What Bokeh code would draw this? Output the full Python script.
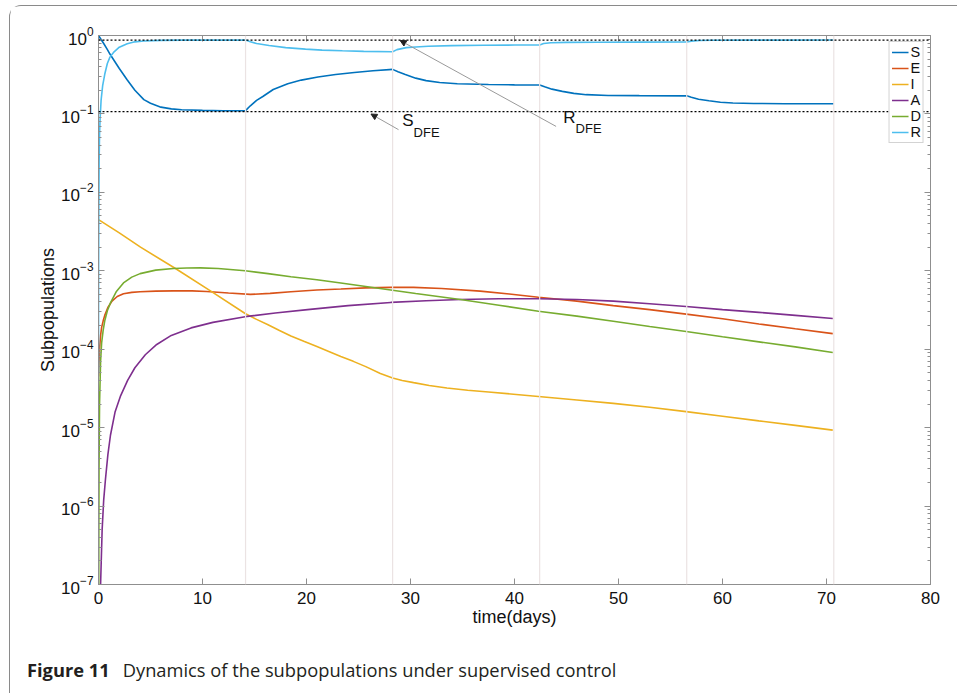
from bokeh.plotting import figure
from bokeh.models import (Range1d, LinearAxis, LogAxis, FixedTicker, Span, Arrow,
                          NormalHead, Label, CustomJSTickFormatter, Div)
from bokeh.layouts import column
from bokeh.embed import file_html
from bokeh.resources import INLINE

# ---------------- data ----------------
t_S = [0, 0.25, 0.5, 0.8, 1.1, 1.5, 2.0, 2.75, 3.5, 4.36, 5.0, 6.0, 7.0, 8.0, 10.0, 12.0,
       14.14, 14.6, 15.2, 15.8, 16.8, 18.2, 19.5, 21.1, 22.8, 24.6, 26.4,
       28.28, 28.8, 29.5, 30.5, 31.5, 32.8, 34.5, 37.5, 40.0,
       42.42, 42.9, 43.6, 44.6, 45.7, 46.9, 49.0, 52.0,
       56.56, 57.0, 57.7, 58.7, 59.8, 61.0, 63.0, 66.0, 70.7]
S = [1.0, 0.89, 0.79, 0.68, 0.58, 0.48, 0.38, 0.273, 0.2, 0.152, 0.137, 0.122, 0.116, 0.113, 0.111, 0.11,
     0.11, 0.127, 0.149, 0.167, 0.205, 0.243, 0.27, 0.295, 0.318, 0.338, 0.355,
     0.37, 0.345, 0.318, 0.286, 0.266, 0.252, 0.243, 0.237, 0.235,
     0.234, 0.222, 0.207, 0.194, 0.183, 0.176, 0.172, 0.171,
     0.17, 0.163, 0.154, 0.147, 0.141, 0.138, 0.136, 0.135, 0.135]

t_E = [0, 0.05, 0.1, 0.2, 0.3, 0.45, 0.6, 0.9, 1.3, 1.8, 2.4, 3.2, 4.0, 5.5, 7.2, 9.0, 10.4, 12.5,
       14.6, 16.5, 18.5, 21.0, 23.3, 25.7, 28.1, 30.3, 33.0, 36.7, 39.5, 42.3, 46.0, 49.5, 53.0,
       56.5, 60.0, 63.5, 67.0, 70.6]
E = [4.5e-5, 7e-5, 1.0e-4, 1.5e-4, 1.9e-4, 2.3e-4, 2.7e-4, 3.4e-4, 4.1e-4, 4.7e-4, 5.1e-4, 5.3e-4,
     5.4e-4, 5.5e-4, 5.55e-4, 5.55e-4, 5.45e-4, 5.2e-4, 5.0e-4, 5.15e-4, 5.4e-4, 5.7e-4, 5.85e-4,
     6.05e-4, 6.15e-4, 6.15e-4, 5.95e-4, 5.5e-4, 5.05e-4, 4.6e-4, 4.1e-4, 3.6e-4, 3.2e-4,
     2.8e-4, 2.45e-4, 2.1e-4, 1.82e-4, 1.58e-4]

t_I = [0, 2.0, 4.04, 7.4, 10.8, 14.1, 15.2, 16.3, 17.4, 18.5, 19.8, 21.0, 22.2, 23.3, 24.5, 25.7,
       27.1, 28.28, 29.2, 30.3, 31.8, 33.5, 35.5, 37.5, 42.3,
       46.0, 49.5, 53.0, 56.5, 60.0, 63.5, 67.0, 70.6]
I = [4.5e-3, 3.05e-3, 2.0e-3, 1.07e-3, 5.5e-4, 2.85e-4, 2.4e-4, 2.05e-4, 1.73e-4, 1.47e-4, 1.25e-4,
     1.08e-4, 9.3e-5, 8.1e-5, 7.0e-5, 6.0e-5,
     4.9e-5, 4.3e-5, 4.0e-5, 3.75e-5, 3.45e-5, 3.2e-5, 3.0e-5, 2.85e-5, 2.5e-5,
     2.25e-5, 2.04e-5, 1.82e-5, 1.6e-5, 1.4e-5, 1.22e-5, 1.07e-5, 9.3e-6]

t_A = [0, 0.2, 0.35, 0.5, 0.67, 0.9, 1.15, 1.6, 2.1, 2.8, 3.5, 4.5, 5.6, 7.0, 8.9, 11.0, 14.1, 17.0,
       20.1, 24.0, 28.1, 31.5, 34.8, 38.5, 42.3, 46.0, 49.5, 53.0, 56.5, 60.0, 63.5, 67.0, 70.6]
A = [1e-8, 1e-7, 5e-7, 1.2e-6, 2.2e-6, 4.5e-6, 8e-6, 1.6e-5, 2.5e-5, 4.0e-5, 5.8e-5, 8.5e-5, 1.15e-4,
     1.5e-4, 1.87e-4, 2.2e-4, 2.6e-4, 2.9e-4, 3.2e-4, 3.6e-4, 3.95e-4, 4.15e-4, 4.3e-4, 4.4e-4, 4.4e-4,
     4.3e-4, 4.1e-4, 3.8e-4, 3.5e-4, 3.2e-4, 2.95e-4, 2.7e-4, 2.46e-4]

t_D = [0, 0.05, 0.1, 0.2, 0.3, 0.45, 0.6, 0.85, 1.15, 1.7, 2.4, 3.2, 4.0, 5.5, 7.2, 8.5, 9.8, 11.5,
       14.1, 16.3, 18.5, 21.0, 23.3, 26.9, 30.5, 34.8, 38.5, 42.3, 46.0, 49.5, 53.0, 56.5, 60.0,
       63.5, 67.0, 70.6]
D = [1e-8, 3e-6, 2e-5, 7e-5, 1.2e-4, 1.75e-4, 2.3e-4, 3.1e-4, 3.9e-4, 5.4e-4, 7.0e-4, 8.3e-4, 9.2e-4,
     1.02e-3, 1.07e-3, 1.085e-3, 1.09e-3, 1.07e-3, 1.0e-3, 9.2e-4, 8.4e-4, 7.7e-4, 7.0e-4, 6.0e-4,
     5.14e-4, 4.3e-4, 3.64e-4, 3.05e-4, 2.64e-4, 2.27e-4, 1.95e-4, 1.68e-4, 1.44e-4, 1.24e-4,
     1.07e-4, 9.1e-5]

t_R = [0, 0.01, 0.03, 0.06, 0.1, 0.15, 0.25, 0.4, 0.6, 0.85, 1.1, 1.5, 2.0, 2.76, 3.5, 4.36, 6.0, 8.0,
       14.14, 14.6, 15.2, 16.4, 18.0, 19.9, 21.5, 23.45, 25.5,
       28.28, 28.7, 29.6, 30.5, 31.7, 34.0, 37.0, 40.0,
       42.42, 42.8, 43.5, 45.0, 48.0, 52.0,
       56.56, 57.0, 57.8, 59.0, 62.0, 66.0, 70.7]
R = [5e-5, 1e-3, 6e-3, 0.025, 0.055, 0.085, 0.15, 0.23, 0.32, 0.44, 0.53, 0.62, 0.71, 0.785, 0.83,
     0.85, 0.866, 0.872,
     0.875, 0.83, 0.79, 0.745, 0.70, 0.67, 0.65, 0.638, 0.628,
     0.62, 0.66, 0.70, 0.715, 0.73, 0.742, 0.75, 0.755,
     0.758, 0.79, 0.81, 0.818, 0.822, 0.824,
     0.825, 0.848, 0.864, 0.87, 0.873, 0.874, 0.875]

S_DFE = 0.107
R_DFE = 0.874
switch_days = [14.14, 28.28, 42.42, 56.56, 70.7]

x_ticks = [0, 10, 20, 30, 40, 50, 60, 70, 80]
y_ticks = [1e-7, 1e-6, 1e-5, 1e-4, 1e-3, 1e-2, 1e-1, 1e0]

series = [("S", t_S, S, "#0072BD"), ("E", t_E, E, "#D95319"), ("I", t_I, I, "#EDB120"),
          ("A", t_A, A, "#7E2F8E"), ("D", t_D, D, "#77AC30"), ("R", t_R, R, "#4DBEEE")]

# annotation placement (data coordinates)
s_arrow = dict(x_start=28.85, y_start=0.063, x_end=26.2, y_end=0.0997)
r_arrow = dict(x_start=44.0, y_start=0.0693, x_end=29.0, y_end=0.864)
s_label = dict(x=29.2, y=0.0616, sub_x=30.3, sub_y=0.0469)
r_label = dict(x=44.68, y=0.0681, sub_x=45.87, sub_y=0.0517)

# ---------------- figure ----------------
FONT = "Liberation Sans"
AX = "#8f8f8f"

p = figure(frame_width=832, frame_height=549, min_border_left=88, min_border_right=19,
           min_border_top=29, min_border_bottom=57, y_axis_type="log",
           x_range=Range1d(0, 80), y_range=Range1d(1e-7, 1),
           output_backend="svg", toolbar_location=None,
           background_fill_color="white", border_fill_color="white")
p.grid.visible = False
p.outline_line_color = AX
p.outline_line_width = 1

minor_y = [k * d for d in y_ticks[:-1] for k in range(2, 10)]

p.xaxis.ticker = FixedTicker(ticks=x_ticks)
p.yaxis.ticker = FixedTicker(ticks=y_ticks, minor_ticks=minor_y)

for ax in (p.xaxis[0], p.yaxis[0]):
    ax.axis_line_color = AX
    ax.major_tick_line_color = AX
    ax.minor_tick_line_color = AX
    ax.major_tick_in = 6
    ax.major_tick_out = 0
    ax.minor_tick_in = 3
    ax.minor_tick_out = 0
    ax.major_label_text_font = FONT
    ax.major_label_text_font_size = "17px"
    ax.major_label_text_color = "#111111"
    ax.axis_label_text_font = FONT
    ax.axis_label_text_font_size = "18px"
    ax.axis_label_text_font_style = "normal"
    ax.axis_label_text_color = "#111111"
p.xaxis.minor_tick_in = 0
p.xaxis.axis_label = "time(days)"
p.yaxis.axis_label = "Subpopulations"
p.xaxis.major_label_standoff = 7
p.yaxis.major_label_standoff = 5
p.xaxis.axis_label_standoff = 0
p.yaxis.axis_label_standoff = 0

blank = CustomJSTickFormatter(code="return ''")
top = LinearAxis(ticker=FixedTicker(ticks=x_ticks), formatter=blank)
right = LogAxis(ticker=FixedTicker(ticks=y_ticks, minor_ticks=minor_y), formatter=blank)
for ax in (top, right):
    ax.axis_line_color = AX
    ax.major_tick_line_color = AX
    ax.minor_tick_line_color = AX
    ax.major_tick_in = 6
    ax.major_tick_out = 0
    ax.minor_tick_in = 3
    ax.minor_tick_out = 0
    ax.major_label_standoff = 0
top.minor_tick_in = 0
p.add_layout(top, "above")
p.add_layout(right, "right")

for d in switch_days:
    p.add_layout(Span(location=d, dimension="height", line_color="#ebe3e3", line_width=1.2))

p.add_layout(Span(location=S_DFE, dimension="width", line_color="black",
                  line_dash="2 2", line_width=1.3))
p.add_layout(Span(location=R_DFE, dimension="width", line_color="black",
                  line_dash="2 2", line_width=1.3))

for name, tt, vv, col in series:
    p.line(tt, vv, line_color=col, line_width=1.6, legend_label=name)

for arr in (s_arrow, r_arrow):
    p.add_layout(Arrow(end=NormalHead(size=6, fill_color="#222222", line_color="#222222"),
                       line_color="#9a9a9a", line_width=1, **arr))

for lab, main in ((s_label, "S"), (r_label, "R")):
    p.add_layout(Label(x=lab["x"], y=lab["y"], text=main, text_font=FONT,
                       text_font_size="17px", text_color="#111111"))
    p.add_layout(Label(x=lab["sub_x"], y=lab["sub_y"], text="DFE", text_font=FONT,
                       text_font_size="13px", text_color="#111111"))

lg = p.legend[0]
lg.location = "top_right"
lg.margin = 6
lg.padding = 2
lg.spacing = -1
lg.label_height = 14
lg.label_width = 10
lg.glyph_height = 14
lg.glyph_width = 17
lg.label_standoff = 2
lg.label_text_font = FONT
lg.label_text_font_size = "14.5px"
lg.label_text_color = "#111111"
lg.border_line_color = "#a8a8a8"
lg.border_line_width = 1
lg.background_fill_color = "white"
lg.background_fill_alpha = 1.0

caption = Div(
    text=('<div style="padding:11px 0 0 12px; font-family:\'Open Sans\'; font-size:18.3px; '
          'line-height:25px; color:#231f20; white-space:nowrap;">'
          '<span style="font-weight:700;">Figure 11</span>'
          '<span style="margin-left:13px;">Dynamics of the subpopulations under supervised control</span>'
          '</div>'),
    width=939, height=43)

layout = column(p, caption, margin=(5, 0, 0, 9),
                styles={"border-left": "1.5px solid #8a8a8a",
                        "border-top": "1.5px solid #8a8a8a",
                        "border-top-left-radius": "12px",
                        "background-color": "white"})

open("out.html", "w").write(file_html(layout, INLINE))
